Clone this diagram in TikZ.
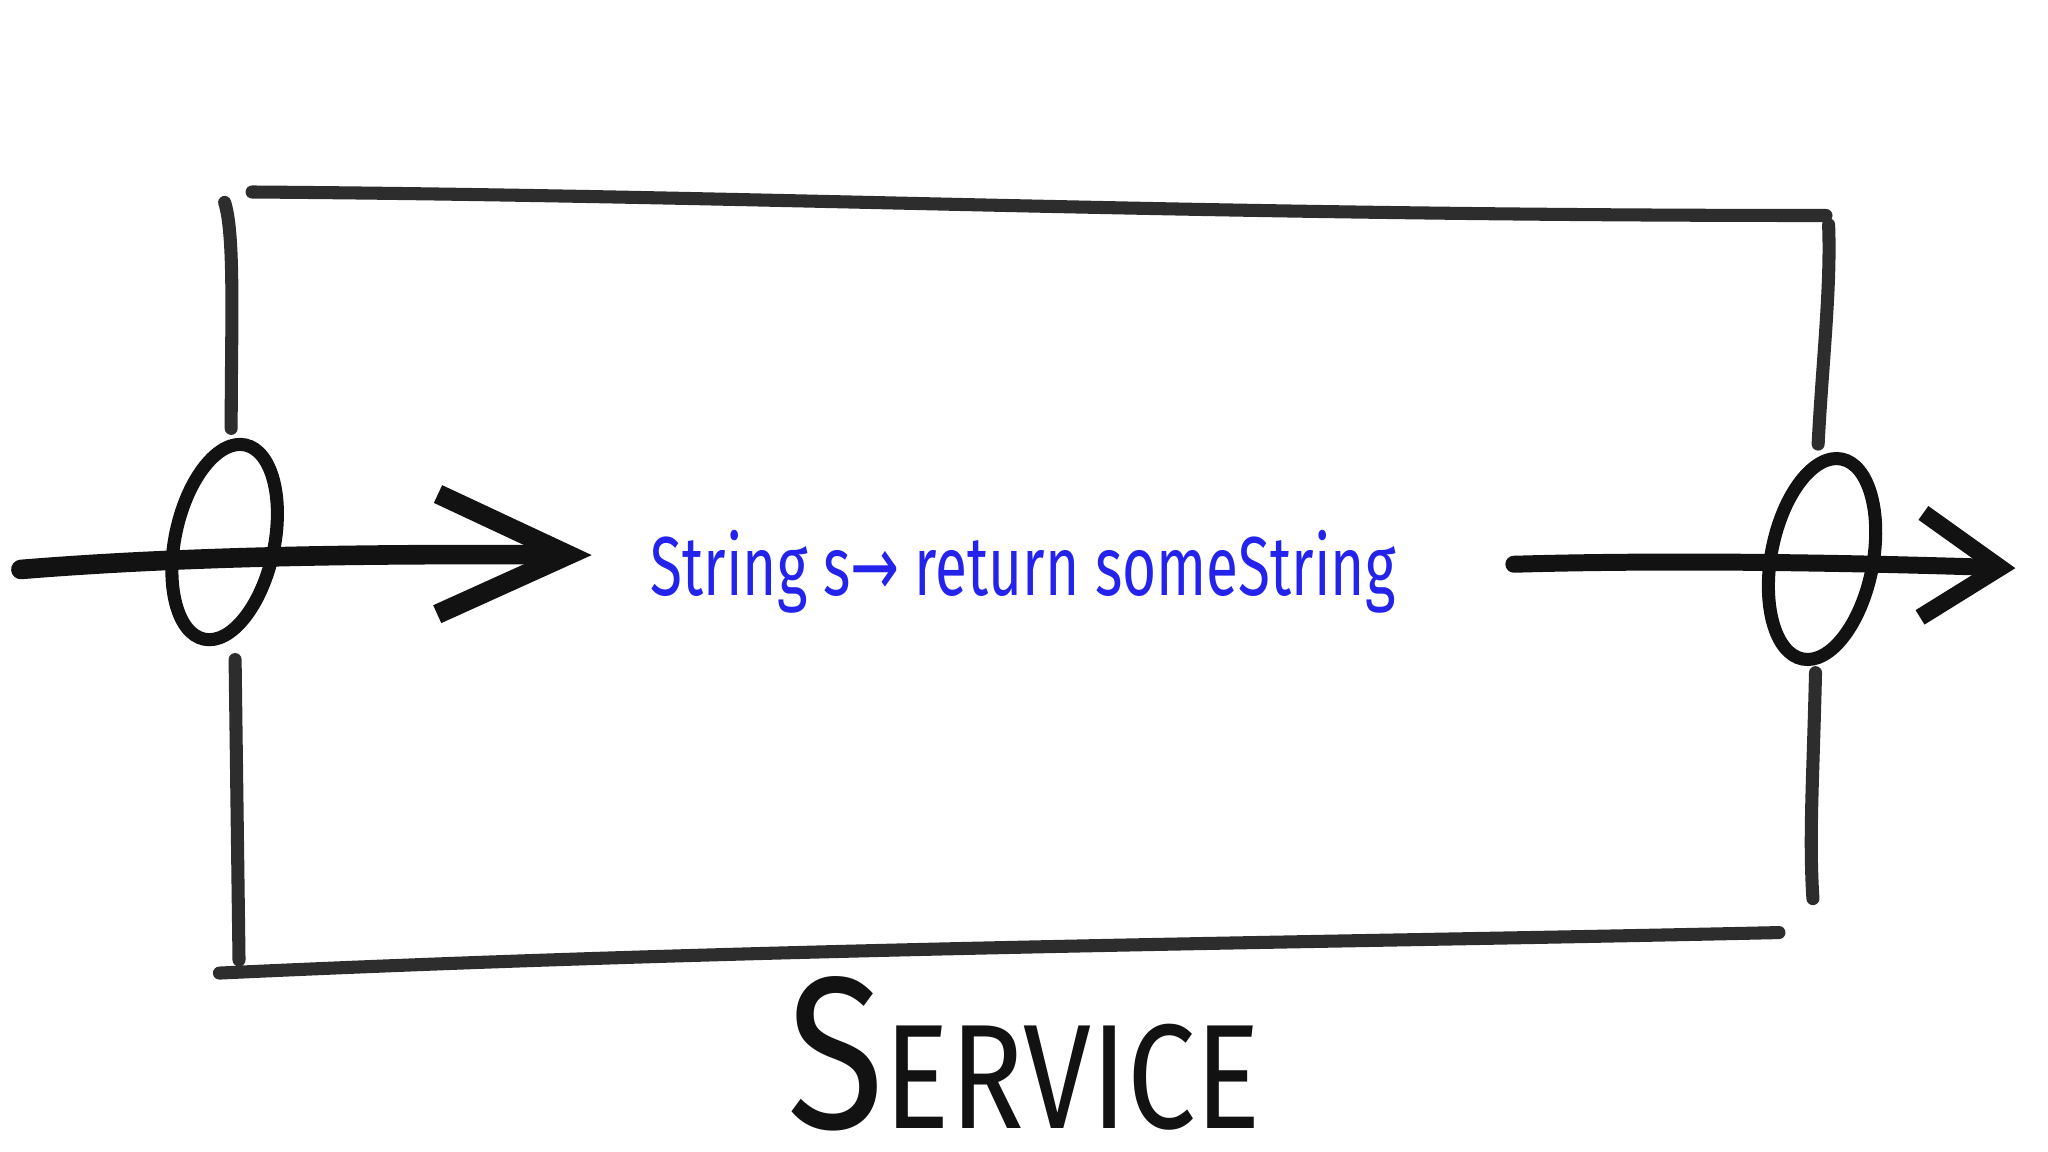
\documentclass[tikz,border=0pt]{standalone}
\usepackage{fontspec}
\setmainfont{Fira Sans}
\newfontfamily\symf{DejaVu Sans}
\usetikzlibrary{shapes.geometric,arrows.meta}
\definecolor{handblue}{RGB}{35,35,235}
\definecolor{ink}{RGB}{18,18,18}
\definecolor{boxink}{RGB}{45,45,45}
\begin{document}
\begin{tikzpicture}[x=1pt,y=-1pt,
  boxline/.style={line width=10pt, draw=boxink, line cap=round},
  port/.style={ellipse, draw=ink, line width=10pt, inner sep=0pt, minimum width=76pt, minimum height=152pt},
  flowL/.style={line width=15pt, draw=ink, line cap=round, -{Straight Barb[length=100pt,width=92pt,line width=15pt]}},
  flowR/.style={line width=13pt, draw=ink, line cap=round, -{Straight Barb[length=60pt,width=80pt,line width=13pt]}},
  sig/.style={text=handblue, font=\fontsize{64}{70}\selectfont, inner sep=0pt},
  title/.style={text=ink, inner sep=0pt}
]
\useasboundingbox (0,0) rectangle (1568,882);
\fill[white] (0,0) rectangle (1568,882);

% box
\draw[boxline] (193,147) .. controls (600,150) and (900,165) .. (1398,165);
\draw[boxline] (172,155) .. controls (180,180) and (177,250) .. (177,328);
\draw[boxline] (180,505) -- (183,735);
\draw[boxline] (168,745) .. controls (600,725) and (1000,722) .. (1362,714);
\draw[boxline] (1400,172) .. controls (1402,220) and (1395,280) .. (1392,340);
\draw[boxline] (1390,515) .. controls (1388,600) and (1385,640) .. (1388,688);

% ports
\node[port, rotate=-12] (pin) at (172,415) {};
\node[port, rotate=-11, minimum height=156pt, minimum width=78pt] (pout) at (1395,428) {};

% flows
\coordinate (srcL) at (16,436);
\coordinate (tipL) at (453,425);
\coordinate (srcR) at (1159,432);
\coordinate (tipR) at (1543,435);
\draw[flowL] (srcL) .. controls (150,425) and (300,424) .. (tipL);
\draw[flowR] (srcR) .. controls (1300,428) and (1450,432) .. (tipR);

% texts
\node[sig, anchor=base west] (fn) at (498,456) {\scalebox{0.70}[1]{String s{\symf →} return someString}};
\node[title, anchor=base west] (svc) at (603,864) {\scalebox{0.82}[1]{{\fontsize{166}{170}\selectfont S}{\fontsize{114}{120}\selectfont ERVICE}}};
\end{tikzpicture}
\end{document}
